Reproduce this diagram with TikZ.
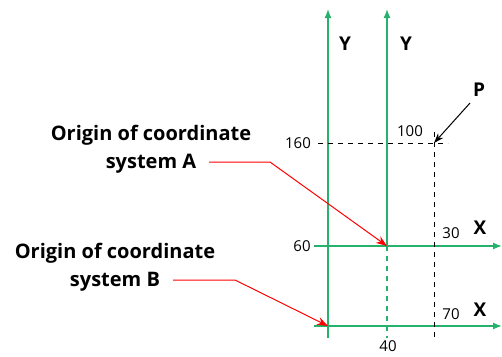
\documentclass[tikz,border=0pt]{standalone}
\usepackage{fontspec}
\setmainfont{Open Sans}
\usetikzlibrary{arrows.meta}
\definecolor{axgreen}{RGB}{38,178,108}
\tikzset{
  axis/.style={draw=axgreen, line width=1.4pt, -{Latex[length=9pt,width=7pt]}},
  gdash/.style={draw=axgreen, line width=1.4pt, dash pattern=on 5pt off 5pt},
  kdash/.style={draw=black, line width=0.9pt, dash pattern=on 5pt off 5pt},
  redarr/.style={draw=red, line width=1pt, -{Stealth[length=11pt,width=8pt]}},
  blkarr/.style={draw=black, line width=1pt, -{Stealth[length=10pt,width=7pt]}},
  num/.style={font=\fontsize{15}{17}\selectfont, inner sep=0pt},
  axlab/.style={font=\fontsize{19}{21}\selectfont\bfseries, inner sep=0pt},
  caption/.style={font=\fontsize{20}{28}\selectfont\bfseries, align=center, inner sep=0pt},
}
\begin{document}
\begin{tikzpicture}[x=1pt,y=-1pt]
\useasboundingbox (0,0) rectangle (502,356);
% coordinates
\coordinate (BoTop) at (328,9);
\coordinate (BoBot) at (328,338);
\coordinate (AoTop) at (387,9);
\coordinate (Ao) at (387,246);
\coordinate (AoBot) at (387,338);
\coordinate (XaL) at (314,246);
\coordinate (XaR) at (502,246);
\coordinate (Bo) at (328,326);
\coordinate (XbL) at (314,326);
\coordinate (XbR) at (502,326);
\coordinate (Pt) at (434,143);
\coordinate (HdL) at (318,143);
\coordinate (HdR) at (448,143);
\coordinate (VdT) at (434,132);
\coordinate (VdB) at (434,341);
% axes
\draw[axis] (BoBot) -- (BoTop);
\draw[axis] (Ao) -- (AoTop);
\draw[gdash] (Ao) -- (AoBot);
\draw[axis] (XaL) -- (XaR);
\draw[axis] (XbL) -- (XbR);
% dashed guides
\draw[kdash] (HdL) -- (HdR);
\draw[kdash] (VdT) -- (VdB);
% labels
\node[axlab] (y1) at (345,44) {Y};
\node[axlab] (y2) at (406,44) {Y};
\node[axlab] (p) at (479,90) {P};
\node[axlab] (x1) at (480,228) {X};
\node[axlab] (x2) at (480,310) {X};
\node[num] (n100) at (410,131) {100};
\node[num] (n160) at (298,143) {160};
\node[num] (n60) at (302,246) {60};
\node[num] (n30) at (451,233) {30};
\node[num] (n70) at (451,314) {70};
\node[num] (n40) at (388,346) {40};
\draw[blkarr] (470,103) -- (Pt);
% captions
\node[caption] (ca) at (151,149) {Origin of coordinate\\system A};
\node[caption] (cb) at (115,267) {Origin of coordinate\\system B};
\coordinate (ra1) at (209,162);
\coordinate (ra2) at (270,162);
\coordinate (rb1) at (173,280);
\coordinate (rb2) at (235,280);
\draw[redarr] (ra1) -- (ra2) -- (Ao);
\draw[redarr] (rb1) -- (rb2) -- (Bo);
\end{tikzpicture}
\end{document}
